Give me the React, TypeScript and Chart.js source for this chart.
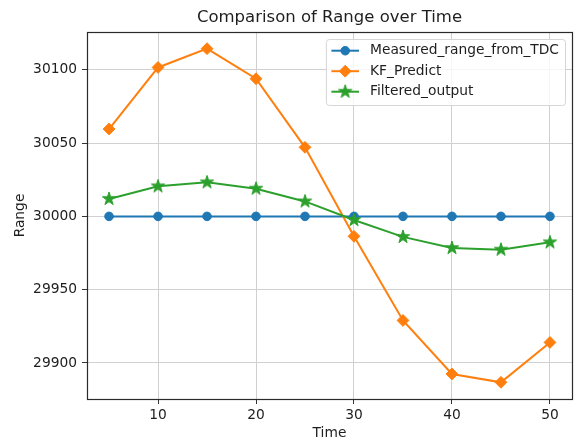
import React, { useEffect, useRef } from 'react';
import { Chart, registerables } from 'chart.js';

Chart.register(...registerables);

// ---- data ----
const time = [5, 10, 15, 20, 25, 30, 35, 40, 45, 50];
const measuredRange = [30000, 30000, 30000, 30000, 30000, 30000, 30000, 30000, 30000, 30000];
const kfPredict = [30059.6, 30101.6, 30114.4, 30093.9, 30047.1, 29986.4, 29929.0, 29892.5, 29886.8, 29914.0];
const filteredOutput = [30011.9, 30020.5, 30023.2, 30018.9, 30010.2, 29997.5, 29986.0, 29978.4, 29977.3, 29982.3];
const xTicks = [10, 20, 30, 40, 50];
const yTicks = [29900, 29950, 30000, 30050, 30100];
const seriesLabels = ['Measured_range_from_TDC', 'KF_Predict', 'Filtered_output'];
const seriesColors = ['#1f77b4', '#ff7f0e', '#2ca02c'];
const chartTitle = 'Comparison of Range over Time';
const xTitle = 'Time';
const yTitle = 'Range';

const FONT = '"DejaVu Sans", "Liberation Sans", sans-serif';
const TEXT = '#1e1e1e';

function makeStar(color: string, r: number): HTMLCanvasElement {
  const size = Math.ceil(r * 2 + 4);
  const c = document.createElement('canvas');
  c.width = size;
  c.height = size;
  const g = c.getContext('2d')!;
  const cx = size / 2;
  const cy = size / 2;
  g.beginPath();
  for (let k = 0; k < 10; k++) {
    const rad = k % 2 === 0 ? r : r * 0.381966;
    const a = -Math.PI / 2 + (k * Math.PI) / 5;
    const px = cx + rad * Math.cos(a);
    const py = cy + rad * Math.sin(a);
    if (k === 0) g.moveTo(px, py);
    else g.lineTo(px, py);
  }
  g.closePath();
  g.fillStyle = color;
  g.fill();
  g.strokeStyle = color;
  g.lineWidth = 1;
  g.stroke();
  return c;
}

function pad(vals: number[]) {
  const mn = Math.min(...vals);
  const mx = Math.max(...vals);
  const m = (mx - mn) * 0.05;
  return [mn - m, mx + m];
}

export default function App() {
  const ref = useRef<HTMLCanvasElement | null>(null);

  useEffect(() => {
    if (!ref.current) return;
    const star = makeStar(seriesColors[2], 7);
    const [xMin, xMax] = pad(time);
    const [yMin, yMax] = pad([...measuredRange, ...kfPredict, ...filteredOutput]);

    const pointStyles: any[] = ['circle', 'rectRot', star];
    const pointRadii = [4.3, 5.9, 7];

    const framePlugin = {
      id: 'frame',
      afterDatasetsDraw(chart: any) {
        const { ctx, chartArea } = chart;
        ctx.save();
        ctx.strokeStyle = '#2a2a2a';
        ctx.lineWidth = 1.2;
        ctx.strokeRect(
          Math.round(chartArea.left) + 0.5,
          Math.round(chartArea.top) + 0.5,
          Math.round(chartArea.right) - Math.round(chartArea.left),
          Math.round(chartArea.bottom) - Math.round(chartArea.top)
        );
        ctx.restore();
      },
    };

    const legendPlugin = {
      id: 'mplLegend',
      afterDraw(chart: any) {
        const { ctx, chartArea } = chart;
        ctx.save();
        ctx.font = `13.8px ${FONT}`;
        const textW = Math.max(...seriesLabels.map((l) => ctx.measureText(l).width));
        const right = chartArea.right - 7;
        const top = chartArea.top + 7;
        const w = 5.5 + 27.6 + 11 + textW + 6;
        const h = 66;
        const left = right - w;
        ctx.beginPath();
        if ((ctx as any).roundRect) (ctx as any).roundRect(left + 0.5, top + 0.5, w, h, 3);
        else ctx.rect(left + 0.5, top + 0.5, w, h);
        ctx.fillStyle = 'rgba(255,255,255,0.8)';
        ctx.fill();
        ctx.strokeStyle = 'rgba(204,204,204,0.8)';
        ctx.lineWidth = 1;
        ctx.stroke();
        for (let i = 0; i < seriesLabels.length; i++) {
          const y = top + 11.7 + i * 20.5;
          const x0 = left + 5.5;
          const x1 = x0 + 27.6;
          const color = seriesColors[i];
          ctx.strokeStyle = color;
          ctx.lineWidth = 2;
          ctx.beginPath();
          ctx.moveTo(x0, y);
          ctx.lineTo(x1, y);
          ctx.stroke();
          const cx = (x0 + x1) / 2;
          const ps = pointStyles[i];
          if (typeof ps === 'string') {
            ctx.fillStyle = color;
            ctx.strokeStyle = color;
            ctx.lineWidth = 1;
            ctx.beginPath();
            if (ps === 'circle') {
              ctx.arc(cx, y, pointRadii[i], 0, Math.PI * 2);
            } else {
              const r = pointRadii[i];
              ctx.moveTo(cx, y - r);
              ctx.lineTo(cx + r, y);
              ctx.lineTo(cx, y + r);
              ctx.lineTo(cx - r, y);
              ctx.closePath();
            }
            ctx.fill();
            ctx.stroke();
          } else {
            ctx.drawImage(ps, cx - ps.width / 2, y - ps.height / 2);
          }
          ctx.fillStyle = TEXT;
          ctx.textBaseline = 'middle';
          ctx.textAlign = 'left';
          ctx.fillText(seriesLabels[i], x1 + 11, y);
        }
        ctx.restore();
      },
    };

    const series = [measuredRange, kfPredict, filteredOutput];
    const chart = new Chart(ref.current, {
      type: 'line',
      data: {
        datasets: series.map((vals, i) => ({
          label: seriesLabels[i],
          data: time.map((t, k) => ({ x: t, y: vals[k] })),
          borderColor: seriesColors[i],
          backgroundColor: seriesColors[i],
          borderWidth: 2,
          pointStyle: pointStyles[i],
          pointRadius: pointRadii[i],
          pointBorderWidth: 1,
          pointBorderColor: seriesColors[i],
          pointBackgroundColor: seriesColors[i],
          fill: false,
          tension: 0,
          order: 3 - i,
        })),
      },
      options: {
        responsive: false,
        animation: false,
        devicePixelRatio: 1,
        layout: { padding: { left: 0, right: 7, top: 0, bottom: 0 } },
        plugins: {
          legend: { display: false },
          tooltip: { enabled: false },
          title: {
            display: true,
            text: chartTitle,
            fullSize: false,
            color: TEXT,
            font: { family: FONT, size: 16.5, weight: 'normal' },
            padding: { top: 8, bottom: 4.2 },
          },
        },
        scales: {
          x: {
            type: 'linear',
            min: xMin,
            max: xMax,
            afterBuildTicks: (s: any) => {
              s.ticks = xTicks.map((v) => ({ value: v }));
            },
            afterFit: (s: any) => {
              s.height = 44;
            },
            ticks: {
              color: TEXT,
              font: { family: FONT, size: 13.8 },
              padding: 3,
              maxRotation: 0,
              autoSkip: false,
            },
            grid: { color: '#d0d0d0', lineWidth: 1, tickLength: 5, tickColor: '#333', drawTicks: true },
            border: { color: '#2a2a2a', width: 1 },
            title: {
              display: true,
              text: xTitle,
              color: TEXT,
              font: { family: FONT, size: 13.8 },
              padding: { top: 0, bottom: 1 },
            },
          },
          y: {
            type: 'linear',
            min: yMin,
            max: yMax,
            afterBuildTicks: (s: any) => {
              s.ticks = yTicks.map((v) => ({ value: v }));
            },
            afterFit: (s: any) => {
              s.width = 87;
            },
            ticks: {
              color: TEXT,
              font: { family: FONT, size: 13.8 },
              padding: 5,
              autoSkip: false,
              callback: (v: any) => String(v),
            },
            grid: { color: '#d0d0d0', lineWidth: 1, tickLength: 5, tickColor: '#333', drawTicks: true },
            border: { color: '#2a2a2a', width: 1 },
            title: {
              display: true,
              text: yTitle,
              color: TEXT,
              font: { family: FONT, size: 13.8 },
              padding: { top: 12, bottom: 0 },
            },
          },
        },
      } as any,
      plugins: [framePlugin, legendPlugin],
    });
    return () => chart.destroy();
  }, []);

  return (
    <div style={{ position: 'fixed', left: 0, top: 0, width: 580, height: 443, background: '#fff' }}>
      <canvas ref={ref} width={580} height={443} style={{ display: 'block' }} />
    </div>
  );
}
